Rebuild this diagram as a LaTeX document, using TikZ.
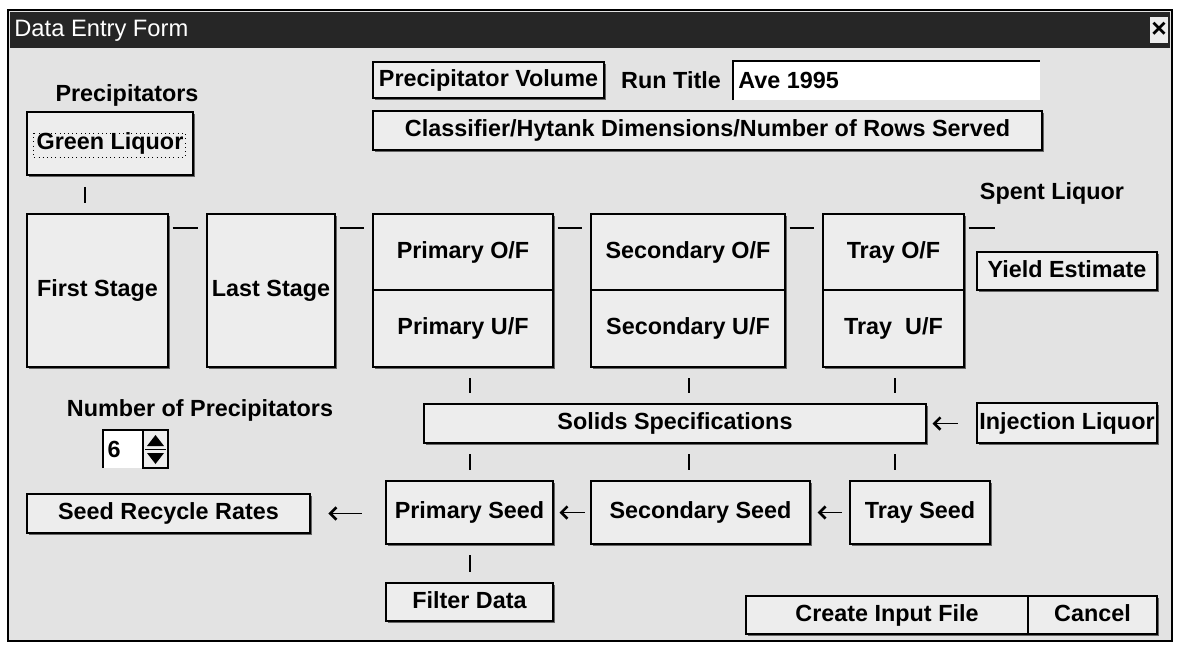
\documentclass[tikz,border=0pt]{standalone}
\usepackage{fontspec}
\setmainfont{Liberation Sans}
\usetikzlibrary{arrows.meta}

\newcommand\lbl{\fontsize{13.3}{15}\selectfont\bfseries}

\tikzset{
  btn/.style={draw=black, line width=0.6pt, fill=gray!14, font=\lbl, inner sep=0pt,
    text height=9.5pt, text depth=2.5pt,
    preaction={fill=black!60, transform canvas={xshift=1.3pt, yshift=-1.3pt}}},
  wh/.style 2 args={minimum width=#1*0.02cm, minimum height=#2*0.02cm},
  tick/.style={line width=1.5pt, shorten <=6pt, shorten >=6pt},
  hline/.style={line width=0.8pt, shorten <=2.3pt, shorten >=4.8pt},
  feed/.style={line width=1pt, <-},
}

\begin{document}
\begin{tikzpicture}[x=0.02cm, y=-0.02cm, >={Straight Barb[length=3.5pt,width=7pt,line width=1.5pt]}]
\useasboundingbox (0,0) rectangle (1178,647);
% window
\fill[gray!22] (8,10) rectangle (1172,641);
\draw[line width=0.8pt] (8,10) rectangle (1172,641);
\fill[black!85] (10,12) rectangle (1170,48);
\node[anchor=west, white, font=\fontsize{13.5}{15}\selectfont, inner sep=0pt] (title) at (14,31) {Data Entry Form};
\fill[gray!15] (1150,17) rectangle (1168,43);
\node[font=\fontsize{15}{15}\selectfont\bfseries, inner sep=0pt] (close) at (1159,30) {×};

% labels
\node[font=\lbl] (prec) at (127,95) {Precipitators};
\node[font=\lbl] (runt) at (671,80) {Run Title};
\node[font=\lbl] (spent) at (1052,193) {Spent Liquor};
\node[font=\lbl] (nprec) at (200,410) {Number of Precipitators};

% run title field
\fill[white] (733,61) rectangle (1040,100);
\draw[line width=1pt] (733,100) -- (733,61) -- (1040,61);
\node[anchor=west, font=\lbl, inner sep=0pt] (runval) at (738,80) {Ave 1995};

% spinner
\fill[white] (103,430) rectangle (143,468);
\draw[line width=1pt] (103,468) -- (103,430) -- (143,430);
\fill[gray!14] (143,430) rectangle (168,468);
\draw[line width=0.6pt] (143,430) rectangle (168,468);
\fill (147,446) -- (164,446) -- (155.5,435) -- cycle;
\fill (147,453) -- (164,453) -- (155.5,464) -- cycle;
\draw[line width=0.6pt] (145,449.5) -- (166,449.5);
\node[font=\lbl] (num) at (114,449) {6};

% buttons
\node[btn, wh={166}{63}, line width=1.4pt] (green) at (110,143.5) {Green Liquor};
\draw[dotted] (33,133) rectangle (185,157);
\node[btn, wh={231}{36}] (pvol) at (488.5,80) {Precipitator Volume};
\node[btn, wh={669}{39}] (cls) at (707.5,130.5) {Classifier/Hytank Dimensions/Number of Rows Served};
\node[btn, wh={141}{153}] (first) at (97.5,290.5) {First Stage};
\node[btn, wh={128}{153}] (last) at (271,290.5) {Last Stage};
\node[btn, wh={180}{76}] (pof) at (463,252) {Primary O/F};
\node[btn, wh={180}{77}] (puf) at (463,328.5) {Primary U/F};
\node[btn, wh={194}{76}] (sof) at (688,252) {Secondary O/F};
\node[btn, wh={194}{77}] (suf) at (688,328.5) {Secondary U/F};
\node[btn, wh={141}{76}] (tof) at (893.5,252) {Tray O/F};
\node[btn, wh={141}{77}] (tuf) at (893.5,328.5) {Tray\ \ U/F};
\node[btn, wh={180}{38}] (yield) at (1067,271) {Yield Estimate};
\node[btn, wh={502}{39}] (solids) at (675,423.5) {Solids Specifications};
\node[btn, wh={180}{40}] (inject) at (1067,423) {Injection Liquor};
\node[btn, wh={167}{63}] (pseed) at (469.5,512.5) {Primary Seed};
\node[btn, wh={219}{63}] (sseed) at (700.5,512.5) {Secondary Seed};
\node[btn, wh={140}{63}] (tseed) at (920,512.5) {Tray Seed};
\node[btn, wh={283}{39}] (recycle) at (168.5,513.5) {Seed Recycle Rates};
\node[btn, wh={167}{38}] (filter) at (469.5,602) {Filter Data};
\node[btn, wh={282}{38}] (create) at (887,615) {Create Input File};
\node[btn, wh={129}{38}] (cancel) at (1092.5,615) {Cancel};

% columns and rows for the links
\coordinate (c0) at (85,0);
\coordinate (c1) at (470,0);
\coordinate (c2) at (689,0);
\coordinate (c3) at (895,0);
\coordinate (h) at (0,228);
\coordinate (sout) at (995,228);

\draw[tick] (green.south -| c0) -- (first.north -| c0);
\draw[hline] (first.east |- h) -- (last.west |- h);
\draw[hline] (last.east |- h) -- (pof.west |- h);
\draw[hline] (pof.east |- h) -- (sof.west |- h);
\draw[hline] (sof.east |- h) -- (tof.west |- h);
\draw[hline, shorten >=0pt] (tof.east |- h) -- (sout);
\draw[tick] (puf.south -| c1) -- (solids.north -| c1);
\draw[tick] (suf.south -| c2) -- (solids.north -| c2);
\draw[tick] (tuf.south -| c3) -- (solids.north -| c3);
\draw[tick] (solids.south -| c1) -- (pseed.north -| c1);
\draw[tick] (solids.south -| c2) -- (sseed.north -| c2);
\draw[tick] (solids.south -| c3) -- (tseed.north -| c3);
\draw[tick] (pseed.south -| c1) -- (filter.north -| c1);

\draw[feed, shorten <=3.4pt, shorten >=10.8pt] (solids.east) -- (solids.east -| inject.west);
\draw[feed, shorten <=10.2pt, shorten >=13.6pt] (recycle.east) -- (recycle.east -| pseed.west);
\draw[feed, shorten <=3.4pt, shorten >=3.4pt] (pseed.east) -- (sseed.west);
\draw[feed, shorten <=4pt, shorten >=4pt] (sseed.east) -- (tseed.west);
\end{tikzpicture}
\end{document}
